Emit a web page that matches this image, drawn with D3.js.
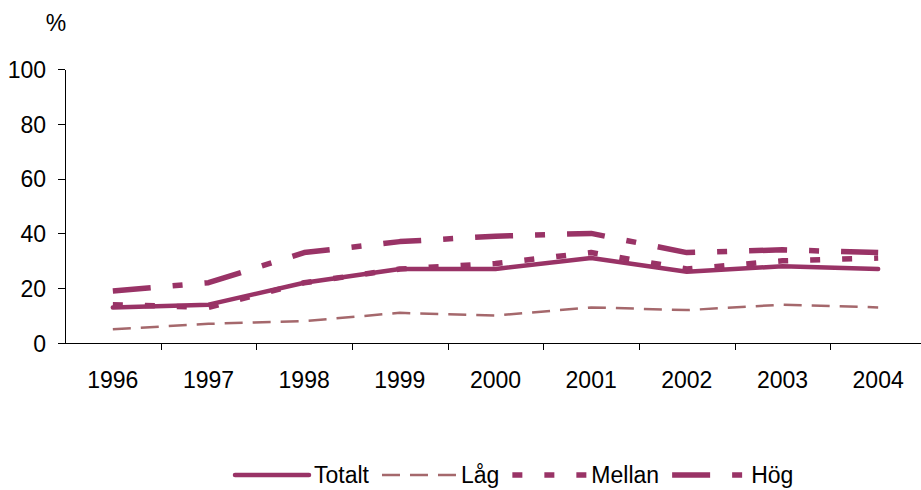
<!DOCTYPE html>
<html>
<head>
<meta charset="utf-8">
<script src="https://cdn.jsdelivr.net/npm/d3@7"></script>
<style>
	body { margin: 0; background: #fff; }
	svg { display: block; font-family: "Liberation Sans", Arial, sans-serif; }
	.axis path, .axis line { stroke: #000; stroke-width: 1; shape-rendering: crispEdges; }
	.axis text { font-size: 23px; fill: #000; }
</style>
</head>
<body>
<div id="chart"></div>
<script>
var years = ["1996","1997","1998","1999","2000","2001","2002","2003","2004"];
var yTicks = [0, 20, 40, 60, 80, 100];
var seriesNames = ["Totalt", "Låg", "Mellan", "Hög"];
var totalt = [13, 14, 22, 27, 27, 31, 26, 28, 27];
var lag    = [5, 7, 8, 11, 10, 13, 12, 14, 13];
var mellan = [14, 13, 22, 27, 29, 33, 27, 30, 31];
var hog    = [19, 22, 33, 37, 39, 40, 33, 34, 33];

var w = 921, h = 490;
var plotLeft = 65, plotRight = 926, plotTop = 69, plotBottom = 343;

// line styles per series
var styles = {
	"Totalt": {color: "#993366", width: 4.5, dash: null, cap: "round"},
	"Låg":    {color: "#a5686c", width: 2.5, dash: "18,10", cap: "butt"},
	"Mellan": {color: "#993366", width: 5.5, dash: "10,22", cap: "butt"},
	"Hög":    {color: "#993366", width: 5.5, dash: "38,22,10,22", cap: "butt"}
};

var data = [
	{name: "Totalt", values: totalt},
	{name: "Låg", values: lag},
	{name: "Mellan", values: mellan},
	{name: "Hög", values: hog}
];

var svg = d3.select("#chart").append("svg")
	.attr("width", w)
	.attr("height", h);

var x = d3.scaleBand().domain(years).range([plotLeft, plotRight]);
var y = d3.scaleLinear().domain([0, 100]).range([plotBottom, plotTop]);

// y axis
var yAxis = svg.append("g")
	.attr("class", "axis")
	.attr("transform", "translate(" + plotLeft + ",0)")
	.call(d3.axisLeft(y).tickValues(yTicks).tickSize(7).tickSizeOuter(0).tickPadding(12));
yAxis.selectAll("text").attr("dy", "0.36em");

// x axis, ticks at band edges
var xAxis = svg.append("g")
	.attr("class", "axis")
	.attr("transform", "translate(0," + plotBottom + ")");
xAxis.append("line")
	.attr("x1", plotLeft).attr("x2", w)
	.attr("y1", 0.5).attr("y2", 0.5);
xAxis.selectAll("line.tick")
	.data(years.slice(1))
	.enter().append("line")
	.attr("class", "tick")
	.attr("x1", function(d) {return Math.round(x(d)) + 0.5;})
	.attr("x2", function(d) {return Math.round(x(d)) + 0.5;})
	.attr("y1", 0).attr("y2", 7);
xAxis.selectAll("text")
	.data(years)
	.enter().append("text")
	.attr("x", function(d) {return x(d) + x.bandwidth()/2;})
	.attr("y", 45)
	.style("text-anchor", "middle")
	.text(function(d) {return d;});

// % label
svg.append("text")
	.attr("x", 56)
	.attr("y", 31)
	.style("text-anchor", "middle")
	.style("font-size", "23px")
	.text("%");

var line = d3.line()
	.x(function(d, i) {return x(years[i]) + x.bandwidth()/2;})
	.y(function(d) {return y(d);});

svg.selectAll("path.series")
	.data(data)
	.enter().append("path")
	.attr("class", "series")
	.attr("d", function(d) {return line(d.values);})
	.style("fill", "none")
	.style("stroke", function(d) {return styles[d.name].color;})
	.style("stroke-width", function(d) {return styles[d.name].width;})
	.style("stroke-dasharray", function(d) {return styles[d.name].dash;})
	.style("stroke-linecap", function(d) {return styles[d.name].cap;})
	.style("stroke-linejoin", "round");

// legend
var legend = svg.append("g").attr("transform", "translate(235,475)");
var lx = 0;
seriesNames.forEach(function(name) {
	var s = styles[name];
	var g = legend.append("g").attr("transform", "translate(" + lx + ",0)");
	g.append("line")
		.attr("x1", 0).attr("x2", 74)
		.style("stroke", s.color)
		.style("stroke-width", s.width)
		.style("stroke-dasharray", s.dash)
		.style("stroke-linecap", s.cap);
	var t = g.append("text")
		.attr("x", 79)
		.attr("dy", "0.36em")
		.style("font-size", "23px")
		.text(name);
	lx += 79 + t.node().getComputedTextLength() + 13;
});
</script>
</body>
</html>
